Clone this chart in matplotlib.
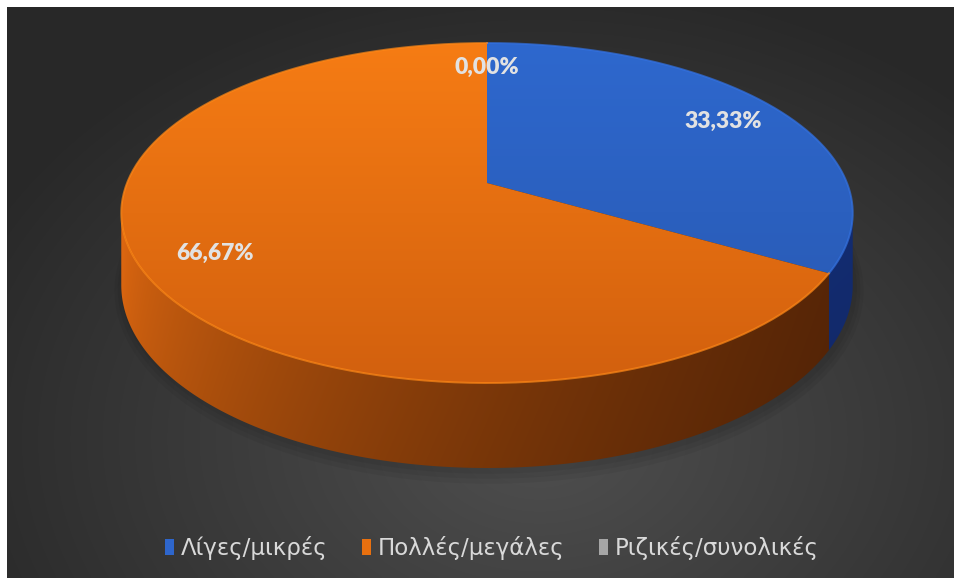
import numpy as np
import matplotlib.pyplot as plt
from matplotlib.patches import Polygon, Patch

# data
categories = ['Λίγες/μικρές', 'Πολλές/μεγάλες', 'Ριζικές/συνολικές']
values = [1, 2, 0]
legend_colors = ['#2E66CC', '#E8700F', '#A6A6A6']

# top face gradient (top, bottom) and side gradient (left, right) per slice
top_cols = [((46, 104, 206), (40, 88, 176)),
            ((246, 124, 20), (210, 96, 14)),
            ((160, 160, 160), (120, 120, 120))]
side_cols = [((32, 66, 150), (18, 42, 108)),
             ((214, 100, 16), (84, 36, 6)),
             ((110, 110, 110), (70, 70, 70))]

W, H = 956, 578
cx, cy = 487, 183          # where the pie centre lands on screen
A, B, K = 360.0, 164.7, 0.1765
DEPTH = 70.0


def project(u, v, drop=0.0):
    w = 1 - K * v
    return cx + A * u / w, cy + B * v / w + drop / w


def rim(a0, a1, r=1.0, n=240):
    phi = np.radians(np.linspace(a0, a1, n))
    return r * np.sin(phi), -r * np.cos(phi)


def fill_gradient(ax, verts, color_fn, zorder):
    poly = Polygon(verts, closed=True, facecolor='none', edgecolor='none', zorder=zorder)
    ax.add_patch(poly)
    x0, y0 = verts.min(axis=0)
    x1, y1 = verts.max(axis=0)
    X, Y = np.meshgrid(np.linspace(x0, x1, 200), np.linspace(y0, y1, 200))
    img = np.clip(color_fn(X, Y), 0, 1)
    im = ax.imshow(img, extent=(x0, x1, y1, y0), origin='upper', zorder=zorder,
                   interpolation='bilinear', aspect='auto')
    im.set_clip_path(poly)


def lerp(c0, c1, t):
    c0 = np.array(c0) / 255
    c1 = np.array(c1) / 255
    t = np.clip(t, 0, 1)[..., None]
    return c0 + (c1 - c0) * t


fig = plt.figure(figsize=(9.56, 5.78), dpi=100, facecolor='white')
ax = fig.add_axes([0, 0, 1, 1])
ax.axis('off')

# background
X, Y = np.meshgrid(np.linspace(0, 1, 300), np.linspace(0, 1, 200))
bx, by = 7 + X * 947, 7 + Y * 571
d = np.sqrt(((bx - 540) / 620) ** 2 + ((by - 440) / 460) ** 2)
g = 0.31 - 0.15 * np.clip(d, 0, 1)
bg = np.dstack([g, g, g])
ax.imshow(bg, extent=(7, 954, 578, 7), origin='upper', zorder=0,
          interpolation='bilinear', aspect='auto')

total = sum(values)
fracs = [v / total for v in values]
starts = np.concatenate([[0], np.cumsum(fracs)[:-1]]) * 360
ends = np.cumsum(fracs) * 360
sil = np.degrees(np.arccos(-K))          # silhouette angles of the side wall
vis0, vis1 = sil, 360 - sil

# soft shadow under the pie
for grow in [8, 5, 2]:
    su, sv = rim(0, 360)
    px, py = project(su * (1 + grow / 360), sv * (1 + grow / 160), DEPTH + 2)
    ax.add_patch(Polygon(np.column_stack([px + 2, py]), closed=True,
                         facecolor='black', edgecolor='none', alpha=0.05, zorder=1))

# side walls
for i, (a0, a1) in enumerate(zip(starts, ends)):
    if values[i] == 0:
        continue
    s0, s1 = max(a0, vis0), min(a1, vis1)
    if s1 <= s0:
        continue
    u, v = rim(s0, s1)
    tx, ty = project(u, v)
    bx2, by2 = project(u, v, DEPTH)
    verts = np.column_stack([np.concatenate([tx, bx2[::-1]]),
                             np.concatenate([ty, by2[::-1]])])
    cl, cr = side_cols[i]
    fill_gradient(ax, verts,
                  lambda X, Y, cl=cl, cr=cr: lerp(cl, cr, ((X - 121) / 732) ** 0.6)
                  * (1.05 - 0.12 * (Y - 213) / 255)[..., None],
                  zorder=2)

# top faces
for i, (a0, a1) in enumerate(zip(starts, ends)):
    if values[i] == 0:
        continue
    u, v = rim(a0, a1)
    tx, ty = project(u, v)
    verts = np.column_stack([np.concatenate([[cx], tx]), np.concatenate([[cy], ty])])
    ct, cb = top_cols[i]
    fill_gradient(ax, verts,
                  lambda X, Y, ct=ct, cb=cb: lerp(ct, cb, (Y - 43) / 340),
                  zorder=3)
    hi = np.array(ct) / 255 * 1.1
    ax.plot(tx, ty, color=np.clip(hi, 0, 1), lw=1.4, alpha=0.7, zorder=4)

# data labels
for i, (a0, a1) in enumerate(zip(starts, ends)):
    mid = np.radians((a0 + a1) / 2)
    lx, ly = project(0.81 * np.sin(mid), -0.8 * np.cos(mid))
    txt = f'{fracs[i] * 100:.2f}%'.replace('.', ',')
    ax.text(lx, ly, txt, ha='center', va='center', fontsize=16.5, fontweight='heavy',
            color='#e2e2e2', family=['Lato', 'DejaVu Sans'], zorder=5)

ax.set_xlim(0, W)
ax.set_ylim(H, 0)

handles = [Patch(facecolor=c, edgecolor='none', label=l)
           for c, l in zip(legend_colors, categories)]
ax.legend(handles=handles, loc='center', bbox_to_anchor=(492 / W, 1 - 548 / H),
          ncol=3, frameon=False, handlelength=0.4, handleheight=0.65,
          handletextpad=0.3, columnspacing=1.5, labelcolor='#d9d9d9',
          prop={'family': ['DejaVu Sans'], 'size': 16.5})

fig.savefig('out.png', dpi=100, facecolor='white')
